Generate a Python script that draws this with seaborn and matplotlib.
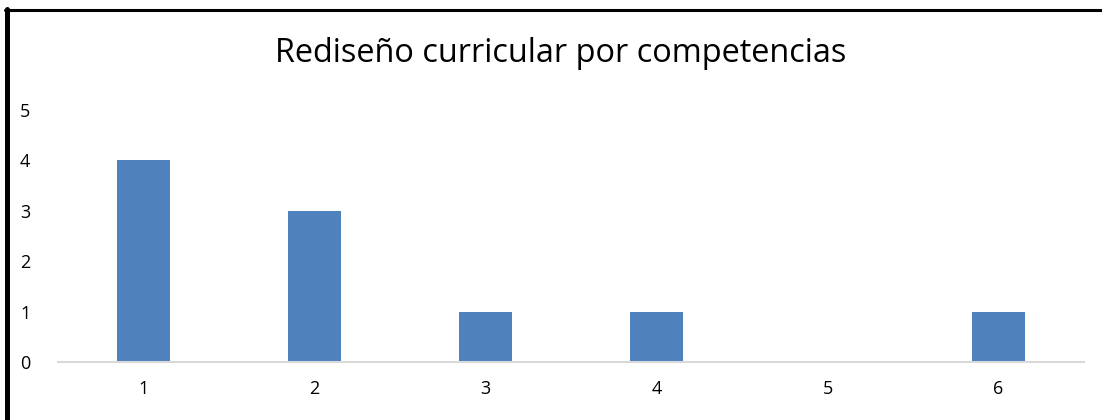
import pandas as pd
import matplotlib.pyplot as plt
import seaborn as sns
from matplotlib.lines import Line2D

categorias = ['1', '2', '3', '4', '5', '6']
valores = [4, 3, 1, 1, 0, 1]
titulo = 'Rediseño curricular por competencias'

df = pd.DataFrame({'cat': categorias, 'val': valores})

sns.set_style('white')
plt.rcParams['font.family'] = ['Open Sans', 'DejaVu Sans']

fig = plt.figure(figsize=(11.02, 4.2), dpi=100)
ax = fig.add_axes([0.0526, 0.138, 0.9311, 0.6])

sns.barplot(data=df, x='cat', y='val', color='#4f81bd', saturation=1,
            width=0.31, linewidth=0, ax=ax)

ax.set_ylim(0, 5)
ax.set_yticks(range(0, 6))
ax.set_xlabel('')
ax.set_ylabel('')
ax.tick_params(axis='both', length=0, labelsize=13, labelcolor='black')
ax.tick_params(axis='x', pad=13)
ax.tick_params(axis='y', pad=20)
for s in ['top', 'right', 'left']:
    ax.spines[s].set_visible(False)
ax.spines['bottom'].set_color('#d9d9d9')
ax.spines['bottom'].set_linewidth(1.5)

fig.text(0.509, 0.872, titulo, ha='center', va='center', fontsize=23.4,
         color='black')

# black frame (left and top edges only, rest is cropped)
fig.add_artist(Line2D([7 / 1102, 7 / 1102], [0, 1 - 9 / 420], color='black', lw=3.6))
fig.add_artist(Line2D([5 / 1102, 1], [1 - 10 / 420, 1 - 10 / 420], color='black', lw=2.2))

fig.savefig('out.png', dpi=100)
